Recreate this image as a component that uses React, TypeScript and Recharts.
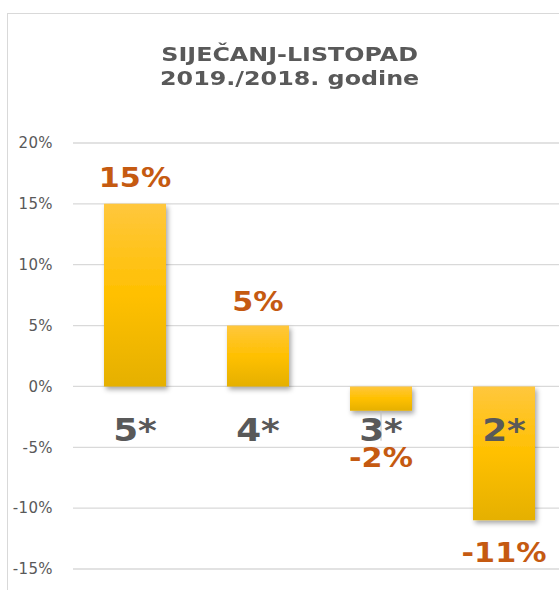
import React from "react";
import {
  BarChart,
  Bar,
  XAxis,
  YAxis,
  CartesianGrid,
  LabelList,
} from "recharts";

const categories = ["5*", "4*", "3*", "2*"];
const changes = [0.15, 0.05, -0.02, -0.11];
const yTicks = [-0.15, -0.1, -0.05, 0, 0.05, 0.1, 0.15, 0.2];
const titleLines = ["SIJEČANJ-LISTOPAD", "2019./2018. godine"];

// how far each value label sits from the end of its bar (moved by hand in the original)
const valueLabelGap = [27, 24, 47, 32];

const data = categories.map((name, i) => ({ name, value: changes[i], idx: i }));

const FONT = "'DejaVu Sans', Verdana, sans-serif";
const GREY = "#595959";
const ORANGE = "#C55A11";
// DejaVu is a bit narrower than the Verdana of the original, so bold labels get stretched
const WIDEN = 1.12;

const pct = (v: number) => `${Math.round(v * 100)}%`;

const CategoryLabel = (props: any) => {
  const { x, y, width, height, index } = props;
  const zero = y + height;
  return (
    <text
      transform={`translate(${x + width / 2}, ${zero + 55}) scale(${WIDEN}, 1)`}
      textAnchor="middle"
      fill={GREY}
      fontFamily={FONT}
      fontWeight="bold"
      fontSize={32}
    >
      {categories[index]}
    </text>
  );
};

const ValueLabel = (props: any) => {
  const { x, y, width, height, index } = props;
  const v = changes[index];
  const top = Math.min(y, y + height);
  const bottom = Math.max(y, y + height);
  const gap = valueLabelGap[index];
  const cy = v >= 0 ? top - gap : bottom + gap;
  const cx = x + width / 2;
  return (
    <g>
      {v < 0 && gap > 40 && (
        <line x1={cx} x2={cx} y1={bottom} y2={bottom + 30} stroke="#BFBFBF" strokeWidth={1} />
      )}
      <text
        transform={`translate(${cx}, ${cy}) scale(${WIDEN}, 1)`}
        dy="0.36em"
        textAnchor="middle"
        fill={ORANGE}
        fontFamily={FONT}
        fontWeight="bold"
        fontSize={27}
      >
        {pct(v)}
      </text>
    </g>
  );
};

export default function App() {
  return (
    <div
      style={{
        position: "absolute",
        left: 0,
        top: 0,
        width: 559,
        height: 590,
        overflow: "hidden",
        background: "#fff",
      }}
    >
      <div
        style={{
          position: "absolute",
          left: 7,
          top: 13,
          width: 568,
          height: 620,
          border: "1.5px solid #D9D9D9",
          boxSizing: "border-box",
        }}
      />
      <div
        style={{
          position: "absolute",
          left: 7,
          top: 42,
          width: 568,
          textAlign: "center",
          fontFamily: FONT,
          fontWeight: "bold",
          fontSize: 20,
          lineHeight: "24px",
          color: GREY,
          transform: "scaleX(1.19)",
          transformOrigin: "291px 0",
        }}
      >
        {titleLines.map((t) => (
          <div key={t}>{t}</div>
        ))}
      </div>
      <div style={{ position: "absolute", left: 0, top: 0 }}>
        <BarChart
          width={600}
          height={600}
          data={data}
          margin={{ top: 143, right: 35, bottom: 31, left: 0 }}
          barSize={62}
        >
          <defs>
            <linearGradient id="barFill" x1="0" y1="0" x2="0" y2="1">
              <stop offset="0%" stopColor="#FFC73D" />
              <stop offset="50%" stopColor="#FFC000" />
              <stop offset="100%" stopColor="#E5B000" />
            </linearGradient>
            <filter id="barShadow" x="-20%" y="-20%" width="150%" height="150%">
              <feDropShadow dx="2" dy="3" stdDeviation="2.5" floodColor="#000" floodOpacity="0.35" />
            </filter>
          </defs>
          <CartesianGrid vertical={false} stroke="#D9D9D9" strokeWidth={1.3} />
          <XAxis dataKey="name" hide />
          <YAxis
            type="number"
            domain={[-0.15, 0.2]}
            ticks={yTicks}
            width={73}
            axisLine={false}
            tickLine={false}
            tickSize={0}
            tickMargin={20}
            tickFormatter={pct}
            tick={{ fill: GREY, fontFamily: FONT, fontSize: 15, letterSpacing: 0.4 }}
          />
          <Bar
            dataKey="value"
            fill="url(#barFill)"
            filter="url(#barShadow)"
            isAnimationActive={false}
          >
            <LabelList dataKey="value" content={ValueLabel} />
            <LabelList dataKey="value" content={CategoryLabel} />
          </Bar>
        </BarChart>
      </div>
    </div>
  );
}
